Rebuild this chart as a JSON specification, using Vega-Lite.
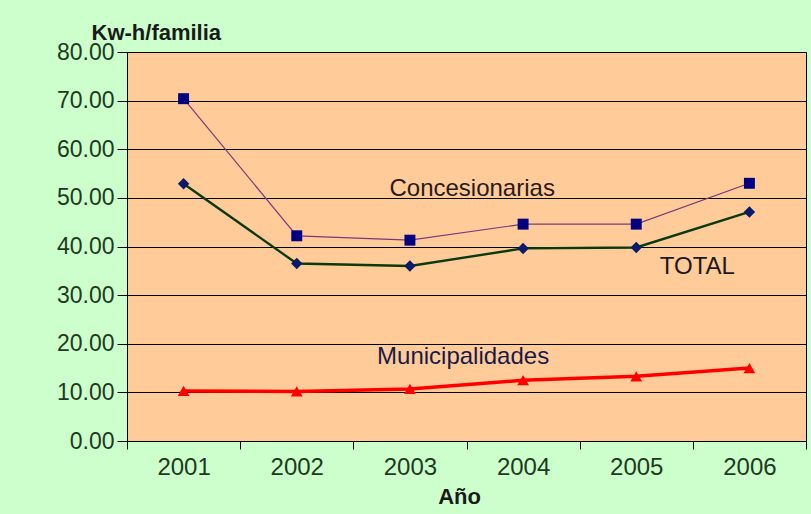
{
  "$schema": "https://vega.github.io/schema/vega-lite/v6.json",
  "width": 679,
  "height": 389,
  "autosize": "none",
  "padding": {"left": 127, "top": 52, "right": 5, "bottom": 73},
  "background": "#ccffcc",
  "config": {
    "font": "Liberation Sans",
    "view": {"fill": "#ffcc99", "stroke": "#000000", "strokeWidth": 1}
  },
  "datasets": {
    "series": [
      {"series": "Concesionarias", "year": 2001, "value": 70.4},
      {"series": "Concesionarias", "year": 2002, "value": 42.2},
      {"series": "Concesionarias", "year": 2003, "value": 41.3},
      {"series": "Concesionarias", "year": 2004, "value": 44.6},
      {"series": "Concesionarias", "year": 2005, "value": 44.6},
      {"series": "Concesionarias", "year": 2006, "value": 53.0},
      {"series": "TOTAL", "year": 2001, "value": 52.9},
      {"series": "TOTAL", "year": 2002, "value": 36.5},
      {"series": "TOTAL", "year": 2003, "value": 36.0},
      {"series": "TOTAL", "year": 2004, "value": 39.6},
      {"series": "TOTAL", "year": 2005, "value": 39.8},
      {"series": "TOTAL", "year": 2006, "value": 47.1},
      {"series": "Municipalidades", "year": 2001, "value": 10.3},
      {"series": "Municipalidades", "year": 2002, "value": 10.2},
      {"series": "Municipalidades", "year": 2003, "value": 10.7},
      {"series": "Municipalidades", "year": 2004, "value": 12.5},
      {"series": "Municipalidades", "year": 2005, "value": 13.3},
      {"series": "Municipalidades", "year": 2006, "value": 15.0}
    ],
    "labels": [
      {"label": "Concesionarias", "year": 2003.55, "value": 51.8, "series": "Concesionarias"},
      {"label": "TOTAL", "year": 2005.54, "value": 35.8, "series": "TOTAL"},
      {"label": "Municipalidades", "year": 2003.47, "value": 17.2, "series": "Municipalidades"}
    ]
  },
  "encoding": {
    "y": {
      "field": "value",
      "type": "quantitative",
      "scale": {"domain": [0, 80], "nice": false},
      "axis": {
        "values": [0, 10, 20, 30, 40, 50, 60, 70, 80],
        "format": ".2f",
        "grid": true,
        "gridColor": "#000000",
        "gridOpacity": 1,
        "gridWidth": 1,
        "domainColor": "#000000",
        "tickColor": "#000000",
        "tickSize": 10,
        "labelColor": "#1e3a1e",
        "labelFontSize": 23,
        "labelPadding": 3,
        "title": "Kw-h/familia",
        "titleAngle": 0,
        "titleAlign": "left",
        "titleBaseline": "alphabetic",
        "titleX": -36,
        "titleY": -13,
        "titleFontSize": 22,
        "titleFontWeight": "bold",
        "titleColor": "#1a1a1a"
      }
    }
  },
  "layer": [
    {
      "data": {"name": "series"},
      "mark": {"type": "line"},
      "encoding": {
        "x": {
          "field": "year",
          "type": "quantitative",
          "scale": {"domain": [2000.5, 2006.5], "nice": false, "zero": false},
          "axis": {
            "orient": "bottom",
            "values": [2000.5, 2001.5, 2002.5, 2003.5, 2004.5, 2005.5, 2006.5],
            "labels": false,
            "grid": false,
            "domainColor": "#000000",
            "tickColor": "#000000",
            "tickSize": 8,
            "title": null
          }
        },
        "color": {
          "field": "series",
          "type": "nominal",
          "scale": {"domain": ["Concesionarias", "TOTAL", "Municipalidades"], "range": ["#7a3a7a", "#0a3a0a", "#ff0000"]},
          "legend": null
        },
        "strokeWidth": {
          "field": "series",
          "type": "nominal",
          "scale": {"domain": ["Concesionarias", "TOTAL", "Municipalidades"], "range": [1.2, 3.5, 3.5]},
          "legend": null
        }
      }
    },
    {
      "data": {"name": "series"},
      "mark": {"type": "point", "filled": true, "opacity": 1},
      "encoding": {
        "x": {
          "field": "year",
          "type": "quantitative",
          "scale": {"domain": [2000.5, 2006.5], "nice": false, "zero": false},
          "axis": {
            "orient": "bottom",
            "values": [2001, 2002, 2003, 2004, 2005, 2006],
            "format": "d",
            "ticks": false,
            "domain": false,
            "grid": false,
            "labelPadding": 14,
            "labelFontSize": 24,
            "labelColor": "#1e3a1e",
            "title": "Año",
            "titleFontSize": 22,
            "titleFontWeight": "bold",
            "titleColor": "#1a1a1a",
            "titleX": 332,
            "titleY": 62,
            "titleBaseline": "alphabetic"
          }
        },
        "shape": {
          "field": "series",
          "type": "nominal",
          "scale": {"domain": ["Concesionarias", "TOTAL", "Municipalidades"], "range": ["square", "diamond", "triangle-up"]},
          "legend": null
        },
        "fill": {
          "field": "series",
          "type": "nominal",
          "scale": {"domain": ["Concesionarias", "TOTAL", "Municipalidades"], "range": ["#000080", "#0a1a6a", "#ff0000"]},
          "legend": null
        },
        "size": {
          "field": "series",
          "type": "nominal",
          "scale": {"domain": ["Concesionarias", "TOTAL", "Municipalidades"], "range": [120, 140, 150]},
          "legend": null
        }
      }
    },
    {
      "data": {"name": "labels"},
      "mark": {"type": "text", "fontSize": 24, "baseline": "middle", "align": "center"},
      "encoding": {
        "x": {
          "field": "year",
          "type": "quantitative",
          "scale": {"domain": [2000.5, 2006.5], "nice": false, "zero": false},
          "axis": null
        },
        "text": {"field": "label", "type": "nominal"},
        "color": {
          "field": "series",
          "type": "nominal",
          "scale": {"domain": ["Concesionarias", "TOTAL", "Municipalidades"], "range": ["#2a1a1a", "#1a1a1a", "#1a1a4a"]},
          "legend": null
        }
      }
    }
  ],
  "resolve": {"axis": {"x": "independent"}, "scale": {"color": "independent"}}
}
